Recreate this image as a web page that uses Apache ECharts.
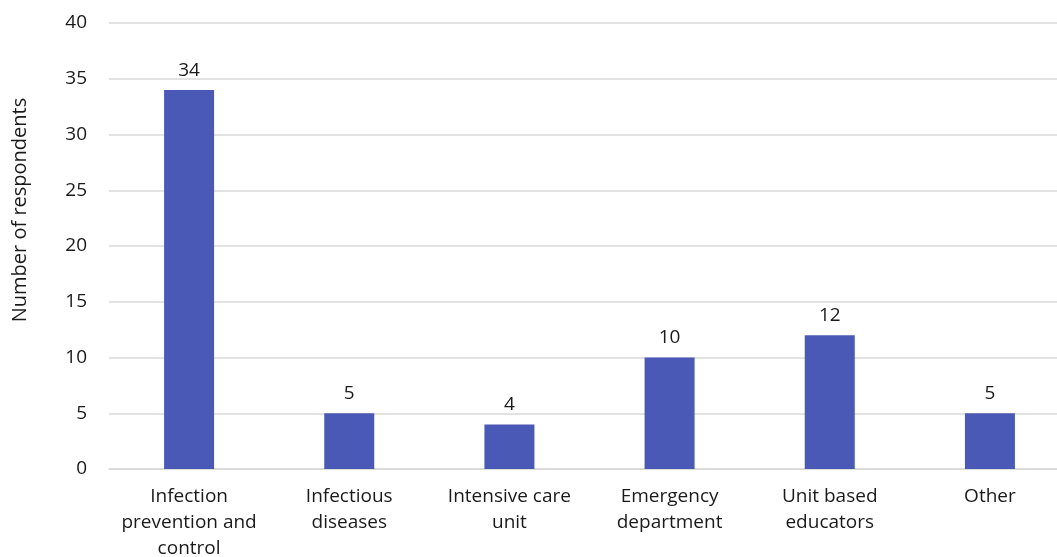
<!DOCTYPE html>
<html>
<head>
<meta charset="utf-8">
<script src="https://cdn.jsdelivr.net/npm/echarts@6/dist/echarts.min.js"></script>
<style>
  html, body { margin: 0; padding: 0; background: #ffffff; }
  #chart { width: 1057px; height: 557px; }
</style>
</head>
<body>
<div id="chart"></div>
<script>
// Respondent roles
const categories = [
  'Infection\nprevention and\ncontrol',
  'Infectious\ndiseases',
  'Intensive care\nunit',
  'Emergency\ndepartment',
  'Unit based\neducators',
  'Other'
];
const respondents = [34, 5, 4, 10, 12, 5];
const yTicks = { min: 0, max: 40, interval: 5 };
const yTitle = 'Number of respondents';

const FONT = '"Open Sans", "Noto Sans", sans-serif';
const TEXT = '#1a1a1a';

const chart = echarts.init(document.getElementById('chart'), null, { renderer: 'canvas' });
chart.setOption({
  animation: false,
  backgroundColor: '#ffffff',
  grid: {
    left: 109, top: 23, width: 961, height: 446,
    containLabel: false, outerBoundsMode: 'none'
  },
  xAxis: {
    type: 'category',
    data: categories,
    axisLine: { show: true, lineStyle: { color: '#d9d9d9', width: 1.5 } },
    axisTick: { show: false },
    axisLabel: {
      color: TEXT, fontFamily: FONT, fontSize: 19, lineHeight: 26,
      margin: 15, interval: 0, align: 'center'
    }
  },
  yAxis: {
    type: 'value',
    min: yTicks.min, max: yTicks.max, interval: yTicks.interval,
    axisLine: { show: false },
    axisTick: { show: false },
    splitLine: { lineStyle: { color: '#d9d9d9', width: 1.5 } },
    axisLabel: { color: TEXT, fontFamily: FONT, fontSize: 19, margin: 22 }
  },
  graphic: [{
    type: 'text',
    x: 20,
    y: 210,
    rotation: Math.PI / 2,
    style: {
      text: yTitle,
      fill: TEXT,
      font: '20px ' + FONT,
      align: 'center',
      verticalAlign: 'middle'
    }
  }],
  series: [{
    type: 'bar',
    data: respondents,
    barWidth: 50,
    itemStyle: { color: '#4a59b5' },
    label: {
      show: true, position: 'top', distance: 10,
      color: TEXT, fontFamily: FONT, fontSize: 19
    }
  }]
});
</script>
</body>
</html>
